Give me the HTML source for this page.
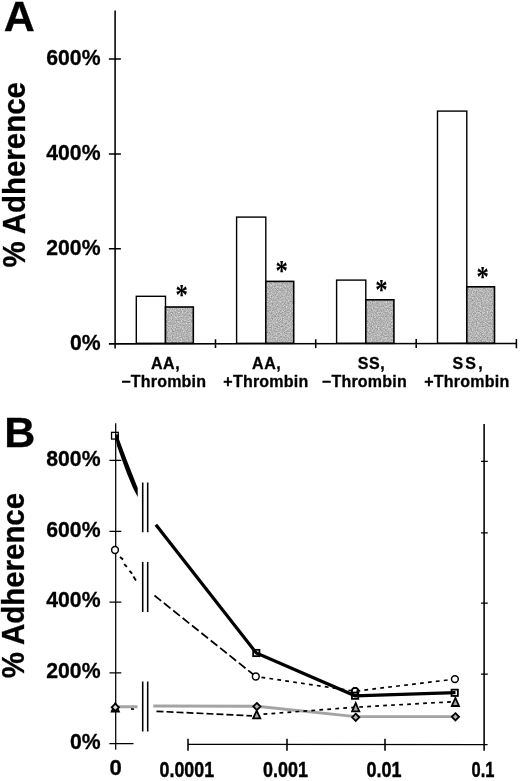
<!DOCTYPE html>
<html>
<head>
<meta charset="utf-8">
<title>Adherence figure</title>
<style>
html,body{margin:0;padding:0;background:#fff;}
body{width:520px;height:781px;overflow:hidden;}
svg{display:block;}
text{font-family:"Liberation Sans",Arial,Helvetica,sans-serif;font-weight:bold;fill:#000;stroke:#000;stroke-width:0.3px;}
.xl text{stroke-width:0.45px;}
.ast{font-family:"Liberation Serif","Times New Roman",serif;font-weight:bold;stroke-width:0.1px;}
.ln{stroke:#000;stroke-width:1.55;fill:none;}
.lb{stroke:#000;stroke-width:1.25;fill:none;}
.wb{fill:#fff;stroke:#000;stroke-width:1.4;}
.gb{fill:none;stroke:#000;stroke-width:1.6;}
</style>
</head>
<body>
<svg width="520" height="781" viewBox="0 0 520 781">
<rect x="0" y="0" width="520" height="781" fill="#fff"/>
<defs>
<filter id="nz" x="0" y="0" width="100%" height="100%" color-interpolation-filters="sRGB">
<feTurbulence type="fractalNoise" baseFrequency="0.8" numOctaves="2" seed="7" result="t"/>
<feColorMatrix in="t" type="matrix" values="0.5 0 0 0 0.455  0.5 0 0 0 0.455  0.5 0 0 0 0.455  0 0 0 0 1"/>
<feComposite operator="in" in2="SourceGraphic"/>
</filter>
</defs>

<!-- ================= Panel A ================= -->
<g id="panelA">
<text x="3.7" y="31.4" font-size="43">A</text>
<text transform="translate(24.7,267.5) rotate(-90) scale(0.953,1)" font-size="30.9">% Adherence</text>

<text x="100.5" y="64.8" font-size="21.2" text-anchor="end">600%</text>
<text x="100.5" y="159.9" font-size="21.2" text-anchor="end">400%</text>
<text x="100.5" y="254.7" font-size="21.2" text-anchor="end">200%</text>
<text x="100.5" y="349.7" font-size="21.2" text-anchor="end">0%</text>

<!-- bars -->
<rect class="wb" x="136.3" y="296.3" width="29.2" height="47"/>
<rect fill="#b4b4b4" filter="url(#nz)" x="165.5" y="307" width="27.8" height="36.3"/>
<rect class="gb" x="165.5" y="307" width="27.8" height="36.3"/>
<rect class="wb" x="236.6" y="217.1" width="29.2" height="126.2"/>
<rect fill="#b4b4b4" filter="url(#nz)" x="265.8" y="281.4" width="27.9" height="61.9"/>
<rect class="gb" x="265.8" y="281.4" width="27.9" height="61.9"/>
<rect class="wb" x="336.6" y="280.1" width="29.2" height="63.2"/>
<rect fill="#b4b4b4" filter="url(#nz)" x="365.8" y="299.8" width="28.1" height="43.5"/>
<rect class="gb" x="365.8" y="299.8" width="28.1" height="43.5"/>
<rect class="wb" x="437.5" y="111.1" width="29.3" height="232.2"/>
<rect fill="#b4b4b4" filter="url(#nz)" x="466.8" y="286.8" width="27.7" height="56.5"/>
<rect class="gb" x="466.8" y="286.8" width="27.7" height="56.5"/>

<!-- axes -->
<path class="ln" d="M115.1 10.5V348.5 M108.9 343.85L516.4 343.4 M108.9 58.9H120.9 M108.9 154H120.9 M108.9 248.8H120.9 M215.5 339.3V348 M315.7 339.2V348 M416.2 339.1V348 M516.4 338.9V348.2"/>

<!-- asterisks -->
<text class="ast" transform="translate(181.65,303.5) scale(0.88,1.03)" font-size="28" text-anchor="middle">*</text>
<text class="ast" transform="translate(281.65,279.6) scale(0.88,1.03)" font-size="28" text-anchor="middle">*</text>
<text class="ast" transform="translate(381.5,299.0) scale(0.88,1.03)" font-size="28" text-anchor="middle">*</text>
<text class="ast" transform="translate(482.75,286.0) scale(0.88,1.03)" font-size="28" text-anchor="middle">*</text>

<!-- category labels -->
<g font-size="16" text-anchor="middle">
<text x="165.6" y="369" letter-spacing="0.6">AA,</text>
<text x="163.7" y="386.8" letter-spacing="0.22">−Thrombin</text>
<text x="266.75" y="369" letter-spacing="0.6">AA,</text>
<text x="265.9" y="386.8" letter-spacing="0.22">+Thrombin</text>
<text x="371.45" y="369" letter-spacing="0.6">SS,</text>
<text x="364.4" y="386.8" letter-spacing="0.22">−Thrombin</text>
<text x="468.6" y="369" letter-spacing="2.2">SS,</text>
<text x="466.85" y="386.8" letter-spacing="0.22">+Thrombin</text>
</g>
</g>

<!-- ================= Panel B ================= -->
<g id="panelB">
<text x="4.3" y="447" font-size="43">B</text>
<text transform="translate(24.0,678.3) rotate(-90) scale(0.953,1)" font-size="30.9">% Adherence</text>

<text x="100.5" y="465.7" font-size="21.2" text-anchor="end">800%</text>
<text x="100.5" y="536.5" font-size="21.2" text-anchor="end">600%</text>
<text x="100.5" y="607" font-size="21.2" text-anchor="end">400%</text>
<text x="100.5" y="678.4" font-size="21.2" text-anchor="end">200%</text>
<text x="100.5" y="749" font-size="21.2" text-anchor="end">0%</text>

<rect x="111.55" y="432.35" width="6.7" height="6.7" fill="#fff" stroke="#000" stroke-width="1.3"/>
<!-- axes -->
<path class="lb" d="M115.7 423.3V749.8 M109.4 743.5H133.5 M188 744.45L487.6 744.5
 M109.5 460.4H121.3 M109.5 531.3H121.3 M109.5 602H121.3 M109.5 672.9H121.3"/>
<path class="ln" d="M484.1 424V750.8 M188 738.7V750.8 M287 738.7V750.8 M385 738.7V750.8"/>
<path class="lb" d="M481 461.3H487.8 M481 532.9H487.8 M481 603H487.8 M481 674H487.8"/>

<!-- axis break marks -->
<path class="ln" d="M142.7 482.5V532.3 M147.7 482.5V532.3 M142.7 562V612 M147.7 562V612 M142.7 681.5V731.5 M147.7 681.5V731.5"/>

<!-- series: triangles dashed (first stub, mostly hidden by gray line) -->
<path d="M115.5 708.2L137 709.2" stroke="#000" stroke-width="1.7" stroke-dasharray="3 13" stroke-dashoffset="-15.5" fill="none"/>
<!-- series: gray diamonds -->
<path d="M119 706.8H137.5 M153.3 706L256.9 706.2L355.7 716.6L455.4 716.6" stroke="#a4a4a4" stroke-width="2.9" fill="none"/>
<!-- series: triangles dashed -->
<path d="M156.5 711.3L252 715.8" stroke="#000" stroke-width="1.7" stroke-dasharray="7 3" fill="none"/>
<path d="M262 714.3L355.7 707.2L455.4 701.6" stroke="#000" stroke-width="1.7" stroke-dasharray="3.8 4.2" stroke-dashoffset="-1.5" fill="none"/>
<!-- series: circles dashed -->
<path d="M120 557.1L123.1 559.6 M124.2 564.2L126.9 566.9 M129.5 570.8L132.1 573.7 M133.5 576.5L135.9 580.4" stroke="#000" stroke-width="1.9" fill="none"/>
<path d="M154.5 595.5L255.8 676.5" stroke="#000" stroke-width="1.7" stroke-dasharray="8.5 3.5" fill="none"/>
<!-- markers (under lines) -->
<g stroke="#000" stroke-width="1.8" stroke-linejoin="miter">
<path d="M115.3 703.20L118.90 711.60H111.70Z" fill="#333"/>
<path d="M115.3 703.70L118.90 707.3L115.3 710.90L111.70 707.3Z" fill="#ddd"/>
<path d="M256.7 710.60L260.30 718.30H253.10Z" fill="#a8a8a8"/>
<path d="M256.9 702.90L260.50 706.5L256.9 710.10L253.30 706.5Z" fill="#b4b4b4"/>
<rect x="253.15" y="649.85" width="6.3" height="6.3" fill="#fff"/>
<circle cx="355.1" cy="691.2" r="3.4" fill="#fff"/>
<rect x="351.95" y="692.55" width="6.3" height="6.3" fill="#fff"/>
<path d="M355.7 703.00L359.30 711.30H352.10Z" fill="#a8a8a8"/>
<path d="M355.7 713.70L359.30 717.3L355.7 720.90L352.10 717.3Z" fill="#b4b4b4"/>
<path d="M455.4 697.90L459.00 706.00H451.80Z" fill="#a8a8a8"/>
<rect x="451.55" y="689.65" width="6.3" height="6.3" fill="#fff"/>
<path d="M455.4 713.20L459.00 716.8L455.4 720.40L451.80 716.8Z" fill="#b4b4b4"/>
</g>
<!-- circle series, later segments drawn over markers -->
<path d="M259.5 677L355.1 691.2L451 679.6" stroke="#000" stroke-width="1.7" stroke-dasharray="3.8 4.2" stroke-dashoffset="-2" fill="none"/>
<!-- series: squares thick -->
<path d="M155.9 524.8L256.3 653L355.1 695.8L455.5 692.7" stroke="#000" stroke-width="3.3" fill="none" stroke-linejoin="miter"/>
<path d="M115.4 434.5L118.9 434.5L118.9 439L126.8 460.3L137.7 488L137.7 497L133 488L127.2 474L122.1 460.3L117.2 446.4L115.4 438Z" fill="#000" stroke="none"/>
<g stroke="#000" stroke-width="1.5">
<circle cx="115" cy="550" r="3.4" fill="#fff"/>
<circle cx="255.8" cy="676.5" r="3.4" fill="#fff"/>
<circle cx="355.1" cy="691.2" r="3.4" fill="none"/>
<circle cx="454.9" cy="679.1" r="3.4" fill="#fff"/>
</g>

<!-- x labels -->
<g class="xl" font-size="21.3">
<text x="109.5" y="775.4" font-size="21.6" textLength="12.3" lengthAdjust="spacingAndGlyphs" style="stroke-width:0.3px">0</text>
<text x="159.6" y="777.4" textLength="54.5" lengthAdjust="spacingAndGlyphs">0.0001</text>
<text x="263.1" y="777.4" textLength="44.95" lengthAdjust="spacingAndGlyphs">0.001</text>
<text x="366.6" y="777.4" textLength="35" lengthAdjust="spacingAndGlyphs">0.01</text>
<text x="471.6" y="777.4" textLength="22.9" lengthAdjust="spacingAndGlyphs">0.1</text>
</g>
</g>
</svg>
</body>
</html>
